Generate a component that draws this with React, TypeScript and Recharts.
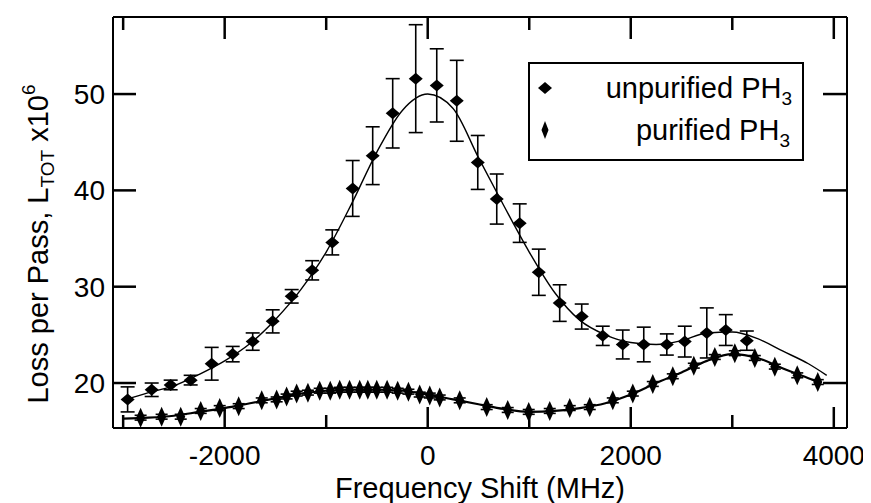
import React from "react";
import { ComposedChart, XAxis, YAxis, Line, Scatter, ErrorBar } from "recharts";

const FONT = "'Liberation Sans', Arial, Helvetica, sans-serif";

// Unpurified PH3 measurements (MHz, loss x1e6, error)
const unpurifiedX = [-2956, -2719, -2532, -2335, -2128, -1921, -1724, -1527, -1340, -1138, -940, -739, -542, -345, -118, 89, 286, 493, 680, 906, 1094, 1300, 1517, 1724, 1921, 2128, 2355, 2532, 2749, 2936, 3143];
const unpurifiedY = [18.3, 19.3, 19.8, 20.3, 22.0, 23.0, 24.3, 26.4, 29.0, 31.7, 34.6, 40.2, 43.6, 48.0, 51.6, 50.9, 49.3, 42.9, 39.1, 36.6, 31.5, 28.3, 26.9, 24.9, 24.0, 24.0, 24.0, 24.3, 25.2, 25.5, 24.4];
const unpurifiedErr = [1.3, 0.7, 0.5, 0.5, 1.7, 0.8, 0.9, 1.2, 0.7, 1.0, 1.3, 2.9, 3.0, 3.6, 5.6, 3.8, 4.2, 2.8, 2.6, 2.0, 2.4, 1.9, 1.3, 1.0, 1.5, 1.8, 1.1, 1.6, 2.6, 1.6, 1.0];

// Purified PH3 measurements
const purifiedX = [-2828, -2621, -2433, -2236, -2049, -1862, -1635, -1488, -1390, -1291, -1180, -1064, -960, -867, -770, -670, -590, -502, -400, -296, -190, -79, 20, 118, 315, 581, 788, 995, 1202, 1399, 1596, 1823, 2020, 2217, 2414, 2621, 2828, 3025, 3222, 3419, 3640, 3842];
const purifiedY = [16.4, 16.5, 16.5, 17.1, 17.4, 17.6, 18.2, 18.3, 18.6, 18.9, 19.0, 19.2, 19.2, 19.3, 19.3, 19.3, 19.3, 19.3, 19.3, 19.2, 19.1, 18.8, 18.7, 18.5, 18.2, 17.5, 17.2, 17.0, 17.1, 17.4, 17.5, 18.2, 18.9, 19.9, 20.7, 21.8, 22.7, 23.1, 22.6, 21.7, 20.8, 20.1];
const purifiedErr = [0.25, 0.25, 0.25, 0.25, 0.25, 0.25, 0.25, 0.25, 0.25, 0.25, 0.25, 0.25, 0.25, 0.25, 0.25, 0.25, 0.25, 0.25, 0.25, 0.25, 0.25, 0.25, 0.25, 0.25, 0.25, 0.25, 0.25, 0.25, 0.25, 0.25, 0.25, 0.25, 0.25, 0.25, 0.25, 0.25, 0.25, 0.25, 0.25, 0.25, 0.25, 0.25];

// Fitted curves
const fitUnpurifiedX = [-3000, -2750, -2500, -2250, -2000, -1750, -1500, -1250, -1000, -750, -500, -250, 0, 250, 500, 750, 1000, 1250, 1500, 1750, 2000, 2250, 2500, 2750, 3000, 3250, 3500, 3750, 3930];
const fitUnpurifiedY = [18.2, 19.0, 19.7, 20.9, 22.3, 24.1, 26.6, 29.7, 33.6, 38.6, 44.0, 48.3, 50.0, 48.5, 43.4, 38.4, 33.6, 29.4, 26.5, 25.0, 24.2, 24.0, 24.4, 25.2, 25.3, 24.6, 23.3, 22.0, 20.8];
const fitPurifiedX = [-3000, -2750, -2500, -2250, -2000, -1750, -1500, -1250, -1000, -750, -500, -250, 0, 250, 500, 750, 1000, 1250, 1500, 1750, 2000, 2250, 2500, 2750, 3000, 3250, 3500, 3750, 3850];
const fitPurifiedY = [16.3, 16.4, 16.6, 17.0, 17.4, 17.9, 18.4, 18.9, 19.2, 19.3, 19.3, 19.2, 18.8, 18.3, 17.8, 17.3, 17.0, 17.1, 17.4, 17.9, 18.8, 20.0, 21.1, 22.3, 23.0, 22.6, 21.5, 20.5, 20.1];

const xMajorTicks = [-2000, 0, 2000, 4000];
const xMinorTicks = [-3000, -1000, 1000, 3000];
const yTicks = [20, 30, 40, 50];

const X_DOMAIN: [number, number] = [-3100, 4130];
const Y_DOMAIN: [number, number] = [15.33, 58];

const unpurified = unpurifiedX.map((x, i) => ({ x, y: unpurifiedY[i], err: unpurifiedErr[i] }));
const purified = purifiedX.map((x, i) => ({ x, y: purifiedY[i], err: purifiedErr[i] }));
const fitUnpurified = fitUnpurifiedX.map((x, i) => ({ x, y: fitUnpurifiedY[i] }));
const fitPurified = fitPurifiedX.map((x, i) => ({ x, y: fitPurifiedY[i] }));

const BottomLabel = (p: any) => (
  <text x={Number(p.x)} y={Number(p.y) + 21 + 37} textAnchor="middle" fontFamily={FONT} fontSize={28} fill="#000">
    {String(p.payload.value)}
  </text>
);
const LeftLabel = (p: any) => (
  <text x={Number(p.x) - 23 - 8} y={Number(p.y) + 10} textAnchor="end" fontFamily={FONT} fontSize={28} fill="#000">
    {String(p.payload.value)}
  </text>
);
const NoLabel = () => <g />;

const WideDiamond = (p: any) => {
  const { cx, cy } = p;
  if (cx == null || cy == null) return <g />;
  return <polygon points={`${cx - 7},${cy} ${cx},${cy - 6} ${cx + 7},${cy} ${cx},${cy + 6}`} fill="#000" />;
};
const TallDiamond = (p: any) => {
  const { cx, cy } = p;
  if (cx == null || cy == null) return <g />;
  return <polygon points={`${cx - 4.5},${cy} ${cx},${cy - 10} ${cx + 4.5},${cy} ${cx},${cy + 10}`} fill="#000" />;
};

const YTitle = () => (
  <text
    x={40}
    y={236}
    transform="rotate(-90, 40, 236)"
    textAnchor="middle"
    fontFamily={FONT}
    fontSize={29}
    fill="#000"
  >
    Loss per Pass, L
    <tspan fontSize={19} dy={6}>TOT</tspan>
    <tspan dy={-6}> x10</tspan>
    <tspan fontSize={19} dy={-13}>6</tspan>
  </text>
);

const XTitle = () => (
  <text x={472} y={490} textAnchor="middle" fontFamily={FONT} fontSize={29} fill="#000">
    Frequency Shift (MHz)
  </text>
);

const LegendBox = () => (
  <g>
    <rect x={521} y={55} width={274} height={97} fill="#fff" stroke="#000" strokeWidth={2} />
    <polygon points="530,80 537,74 544,80 537,86" fill="#000" />
    <text x={784} y={90} textAnchor="end" fontFamily={FONT} fontSize={29} fill="#000">
      unpurified PH<tspan fontSize={19} dy={7}>3</tspan>
    </text>
    <polygon points="533.5,122 537,113 540.5,122 537,131" fill="#000" />
    <text x={782} y={132} textAnchor="end" fontFamily={FONT} fontSize={29} fill="#000">
      purified PH<tspan fontSize={19} dy={7}>3</tspan>
    </text>
  </g>
);

const AXIS_LINE = { stroke: "#000", strokeWidth: 2 };
const TICK_LINE = { stroke: "#000", strokeWidth: 2.5 };

export default function App() {
  return (
    <ComposedChart width={863} height={495} margin={{ top: 7, right: 23, bottom: 73, left: 104 }}>
      <XAxis
        xAxisId="b"
        dataKey="x"
        type="number"
        domain={X_DOMAIN}
        ticks={xMajorTicks}
        interval={0}
        height={1}
        tickSize={-21}
        tickMargin={0}
        tickLine={TICK_LINE}
        axisLine={AXIS_LINE}
        tick={BottomLabel}
        allowDataOverflow
        label={<XTitle />}
      />
      <XAxis
        xAxisId="bm"
        dataKey="x"
        type="number"
        domain={X_DOMAIN}
        ticks={xMinorTicks}
        interval={0}
        height={1}
        tickSize={-14}
        tickMargin={0}
        tickLine={TICK_LINE}
        axisLine={false}
        tick={NoLabel}
        allowDataOverflow
      />
      <XAxis
        xAxisId="t"
        orientation="top"
        dataKey="x"
        type="number"
        domain={X_DOMAIN}
        ticks={xMajorTicks}
        interval={0}
        height={1}
        tickSize={-22}
        tickMargin={0}
        tickLine={TICK_LINE}
        axisLine={AXIS_LINE}
        tick={NoLabel}
        allowDataOverflow
        label={<LegendBox />}
      />
      <XAxis
        xAxisId="tm"
        orientation="top"
        dataKey="x"
        type="number"
        domain={X_DOMAIN}
        ticks={xMinorTicks}
        interval={0}
        height={1}
        tickSize={-14}
        tickMargin={0}
        tickLine={TICK_LINE}
        axisLine={false}
        tick={NoLabel}
        allowDataOverflow
      />
      <YAxis
        yAxisId="l"
        type="number"
        domain={Y_DOMAIN}
        ticks={yTicks}
        interval={0}
        width={1}
        tickSize={-23}
        tickMargin={0}
        tickLine={TICK_LINE}
        axisLine={AXIS_LINE}
        tick={LeftLabel}
        allowDataOverflow
        label={<YTitle />}
      />
      <YAxis
        yAxisId="r"
        orientation="right"
        type="number"
        domain={Y_DOMAIN}
        ticks={yTicks}
        interval={0}
        width={1}
        tickSize={-24}
        tickMargin={0}
        tickLine={TICK_LINE}
        axisLine={AXIS_LINE}
        tick={NoLabel}
        allowDataOverflow
      />
      <Line
        xAxisId="b"
        yAxisId="l"
        data={fitUnpurified}
        dataKey="y"
        type="monotone"
        dot={false}
        stroke="#000"
        strokeWidth={1.4}
        isAnimationActive={false}
      />
      <Line
        xAxisId="b"
        yAxisId="l"
        data={fitPurified}
        dataKey="y"
        type="monotone"
        dot={false}
        stroke="#000"
        strokeWidth={2.2}
        isAnimationActive={false}
      />
      <Scatter
        xAxisId="b"
        yAxisId="l"
        data={unpurified}
        dataKey="y"
        shape={WideDiamond}
        isAnimationActive={false}
      >
        <ErrorBar dataKey="err" direction="y" width={7} stroke="#000" strokeWidth={1.6} />
      </Scatter>
      <Scatter
        xAxisId="b"
        yAxisId="l"
        data={purified}
        dataKey="y"
        shape={TallDiamond}
        isAnimationActive={false}
      >
        <ErrorBar dataKey="err" direction="y" width={6} stroke="#000" strokeWidth={1.6} />
      </Scatter>
    </ComposedChart>
  );
}
